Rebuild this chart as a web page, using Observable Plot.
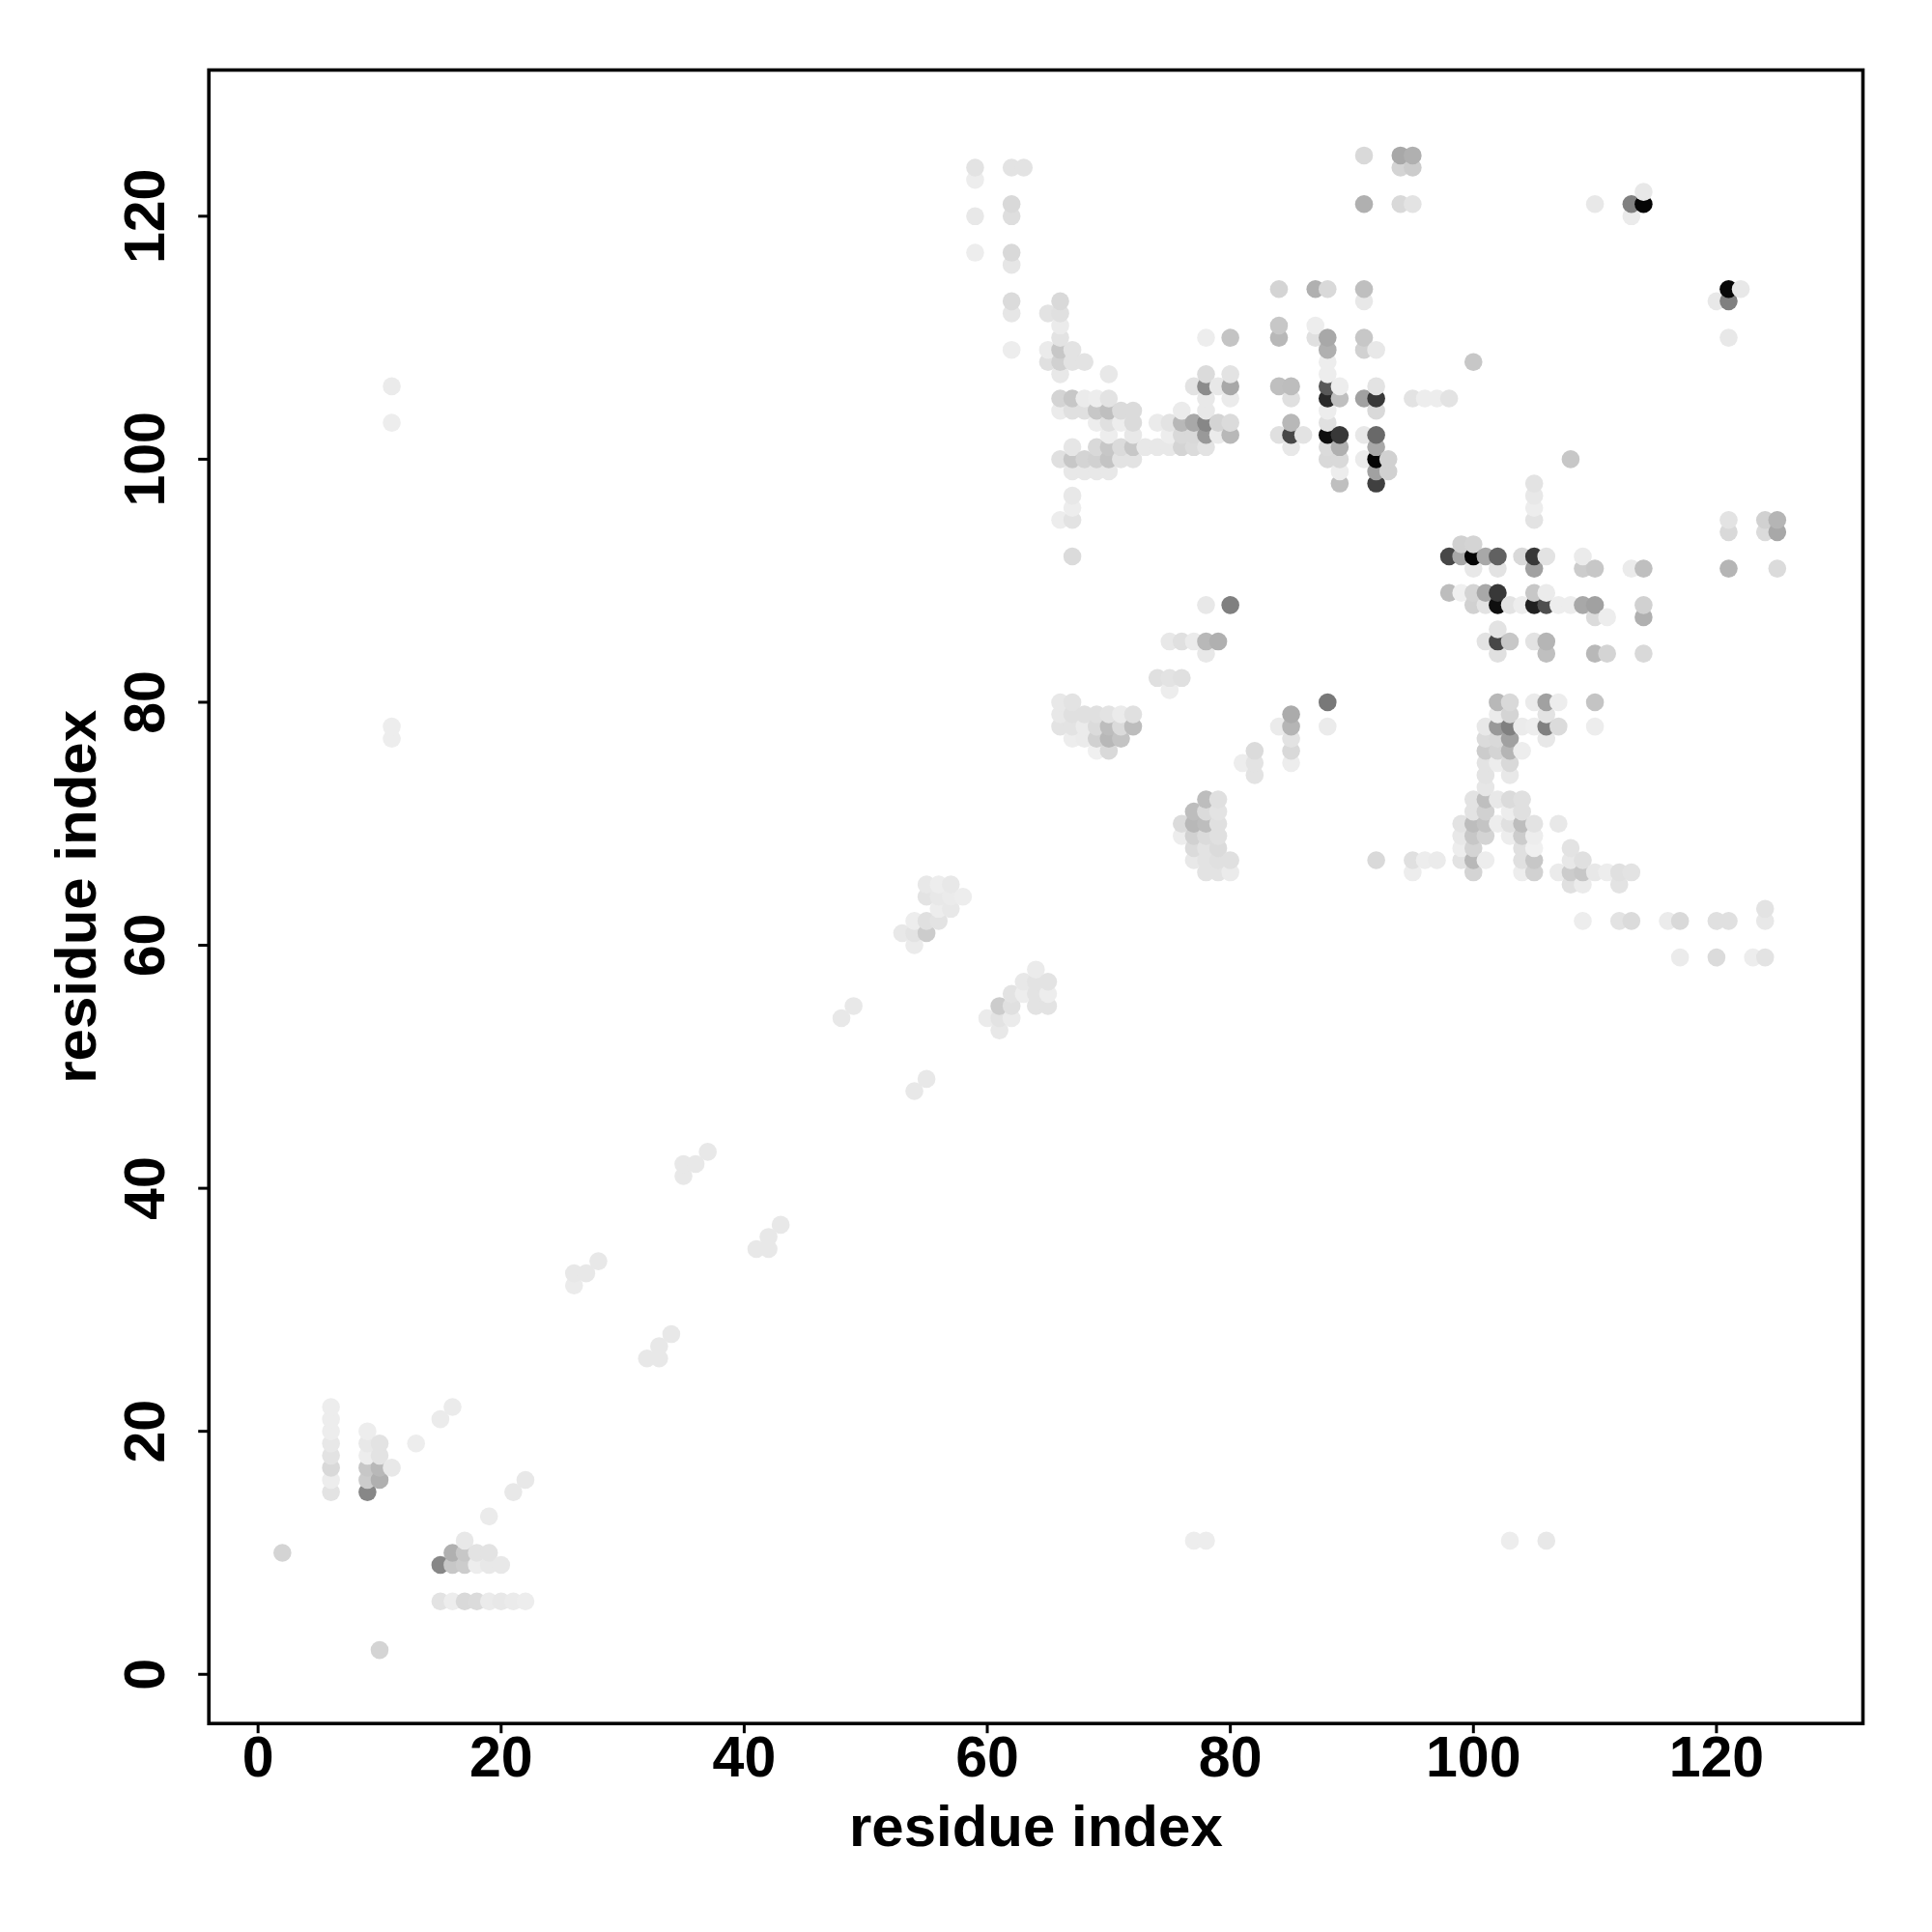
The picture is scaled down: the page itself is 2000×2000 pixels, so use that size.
<!DOCTYPE html>
<html>
<head>
<meta charset="utf-8">
<script src="https://cdn.jsdelivr.net/npm/d3@7"></script>
<script src="https://cdn.jsdelivr.net/npm/@observablehq/plot@0.6"></script>
<style>
html,body{margin:0;padding:0;background:#fff}
svg{display:block}
</style>
</head>
<body>
<div id="chart"></div>
<script>
// each contact: [residue x, residue y, intensity in percent]
const lowerLeft = [
[6,22,7],[6,21,7],[6,20,7],[6,19,9],[6,18,11],[6,17,15],[6,16,7],[6,15,11],
[9,20,7],[9,19,9],[9,18,7],[9,17,22],[9,16,20],[9,15,47],
[10,19,11],[10,18,11],[10,17,28],[10,16,31],[11,17,9],[13,19,7],[15,21,8],[16,22,8],
[19,13,8],[21,15,9],[22,16,9],[10,2,17],[2,10,17],[17,11,9],
[16,10,31],[17,10,22],[18,10,11],[19,10,11],
[15,9,47],[16,9,22],[17,9,20],[18,9,7],[19,9,9],[20,9,9],
[15,6,11],[16,6,7],[17,6,15],[18,6,14],[19,6,8],[20,6,9],[21,6,8],[22,6,7]
];
const farOutliers = [
[11,106,8],[11,103,7],[11,78,7],[11,77,7],[77,11,7],[78,11,7],[103,11,7],[106,11,9]
];
const diagonal = [
[26,32,8],[26,33,9],[27,33,9],[28,34,9],[32,26,9],[33,26,9],[33,27,9],[34,28,9],
[35,41,9],[35,42,9],[36,42,9],[37,43,9],[41,35,9],[42,35,9],[42,36,9],[43,37,9],
[48,54,9],[49,55,9],[54,48,9],[55,49,9],
[55,65,9],[56,65,7],[57,65,9],[55,64,11],[56,64,9],[57,64,8],[58,64,7],[56,63,7],[57,63,9],
[54,62,7],[55,62,12],[56,62,11],[53,61,9],[54,61,11],[55,61,20],[54,60,8],
[64,58,8],[63,57,9],[64,57,11],[65,57,11],[62,56,11],[63,56,7],[64,56,11],[65,56,7],
[61,55,20],[62,55,12],[64,55,11],[65,55,11],[60,54,8],[61,54,11],[62,54,8],[61,53,9]
];
const upperLeft = [
[59,124,11],[59,123,7],[59,120,9],[59,117,7],
[62,124,11],[63,124,11],[62,121,15],[62,120,13],[62,117,15],[62,116,10],
[62,113,14],[62,112,10],[62,109,7],
[66,113,15],[65,112,11],[66,112,12],[66,111,8],[66,110,11],
[65,109,8],[66,109,22],[67,109,11],[65,108,12],[66,108,18],[67,108,11],[68,108,11],
[66,107,9],[70,107,9]
];
const centerBand = [
[66,105,17],[67,105,22],[68,105,8],[69,105,7],[70,105,11],
[66,104,8],[67,104,12],[68,104,12],[69,104,22],[70,104,25],[71,104,14],[72,104,14],
[69,103,7],[70,103,12],[71,103,7],[72,103,14],
[70,102,7],[72,102,9],
[67,101,10],[69,101,15],[70,101,22],[71,101,14],[72,101,22],[73,101,9],[74,101,9],[75,101,9],[76,101,17],[77,101,14],[78,101,11],
[66,100,12],[67,100,22],[68,100,17],[69,100,18],[70,100,23],[71,100,11],[72,100,11],
[67,99,9],[68,99,9],[69,99,9],[70,99,9],
[67,97,9],[67,96,7],[67,95,11],[66,95,7],[67,92,14]
];
const middleTop = [
[78,110,7],[80,110,23],[78,107,14],[80,107,11],
[77,106,11],[78,106,45],[79,106,9],[80,106,34],[78,105,9],[80,105,8],
[76,104,8],[78,104,9],
[74,103,8],[75,103,11],[76,103,28],[77,103,34],[78,103,47],[79,103,17],[80,103,14],
[75,102,7],[76,102,15],[77,102,15],[78,102,40],[79,102,8],[80,102,28]
];
const rightTop = [
[91,125,15],[94,125,34],[95,125,31],[94,124,17],[95,124,20],
[91,121,31],[94,121,15],[95,121,11],
[84,114,17],[87,114,31],[88,114,15],[91,114,25],[91,113,9],
[84,111,22],[87,111,7],[84,110,28],[87,110,12],[88,110,34],[91,110,22],
[88,109,31],[91,109,18],[92,109,9],[88,108,7],[88,107,7],
[84,106,25],[85,106,26],[88,106,65],[89,106,7],[92,106,11],
[85,105,12],[88,105,84],[89,105,25],[91,105,37],[92,105,78],
[95,105,11],[96,105,7],[97,105,7],[98,105,11],
[88,104,7],[92,104,15],[85,103,28],[88,103,12],
[84,102,12],[85,102,72],[86,102,11],[88,102,94],[89,102,78],[91,102,9],[92,102,59],
[85,101,9],[88,101,14],[89,101,31],[92,101,34],
[88,100,15],[89,100,15],[91,100,8],[92,100,98],[93,100,18],
[89,99,7],[92,99,37],[93,99,18],[89,98,25],[92,98,75],
[100,108,22],[108,100,22],
[110,121,9],[113,121,50],[113,120,8],[114,122,9],[114,121,98],
[121,114,97],[122,114,9],[120,113,9],[121,113,50],[121,110,9]
];
const rightMiddle = [
[105,98,11],[105,97,9],[105,96,7],[105,95,11],
[121,95,11],[124,95,18],[125,95,29],[121,94,15],[124,94,14],[125,94,34],[121,91,29],[125,91,14],
[99,93,18],[100,93,17],
[98,92,72],[99,92,34],[100,92,98],[101,92,34],[102,92,62],[104,92,15],[105,92,78],[106,92,11],[109,92,8],
[100,91,9],[102,91,11],[105,91,37],[109,91,20],[110,91,22],[113,91,8],[114,91,25],
[98,89,26],[99,89,6],[100,89,17],[101,89,34],[102,89,78],[105,89,22],[106,89,8],
[100,88,18],[101,88,11],[102,88,94],[103,88,11],[104,88,7],[105,88,87],[106,88,69],[107,88,7],[108,88,7],[109,88,34],[110,88,37],[114,88,18],
[110,87,14],[111,87,7],[114,87,31],[102,86,11],
[101,85,11],[102,85,72],[103,85,22],[105,85,11],[106,85,29],
[102,84,12],[106,84,25],[110,84,28],[111,84,17],[114,84,15]
];
const middleLow = [
[78,88,9],[80,88,50],[75,85,9],[76,85,12],[77,85,8],[78,85,28],[79,85,31],[78,84,9],
[74,82,12],[75,82,11],[76,82,12],[75,81,7],
[66,80,9],[67,80,11],[88,80,53],
[66,79,9],[67,79,12],[68,79,12],[69,79,12],[70,79,11],[71,79,8],[72,79,12],[85,79,33],
[66,78,11],[67,78,11],[68,78,8],[69,78,14],[70,78,26],[71,78,14],[72,78,26],[84,78,8],[85,78,29],[88,78,8],
[67,77,7],[68,77,8],[69,77,18],[70,77,28],[71,77,23],[85,77,11],
[69,76,6],[70,76,15],[85,76,15],[85,75,7],
[81,75,7],[82,76,14],[82,75,11],[82,74,11],
[78,72,26],[79,72,12],[77,71,26],[78,71,14],[79,71,11],
[76,70,14],[77,70,28],[78,70,26],[79,70,12],
[76,69,7],[77,69,18],[78,69,14],[79,69,12],
[77,68,14],[78,68,11],[79,68,14],
[77,67,9],[78,67,11],[79,67,12],[80,67,12],[78,66,11],[79,66,11],[80,66,8],
[92,67,15]
];
const rightLow = [
[102,80,28],[103,80,15],[105,80,8],[106,80,37],[107,80,7],[110,80,23],
[102,79,8],[103,79,17],[106,79,11],
[101,78,9],[102,78,40],[103,78,50],[104,78,8],[105,78,7],[106,78,50],[107,78,14],[110,78,7],
[101,77,14],[102,77,15],[103,77,37],[106,77,9],
[101,76,20],[102,76,17],[103,76,29],[104,76,7],
[101,75,11],[102,75,7],[103,75,15],[101,74,11],[103,74,9],[101,73,10],
[100,72,11],[101,72,25],[102,72,9],[103,72,14],[104,72,12],
[100,71,11],[101,71,18],[103,71,7],[104,71,12],
[99,70,11],[100,70,26],[101,70,23],[102,70,7],[103,70,12],[104,70,26],[105,70,11],[107,70,9],
[99,69,9],[100,69,22],[101,69,17],[103,69,7],[104,69,20],[105,69,7],
[99,68,7],[100,68,17],[104,68,12],[105,68,6],[108,68,11],
[95,67,12],[96,67,7],[97,67,8],[99,67,11],[100,67,28],[101,67,7],[104,67,12],[105,67,22],[108,67,9],[109,67,12],
[95,66,7],[100,66,17],[104,66,7],[105,66,18],[107,66,8],[108,66,20],[109,66,22],[110,66,9],[111,66,7],[112,66,12],[113,66,11],
[108,65,12],[109,65,8],[112,65,11],
[124,63,11],[109,62,7],[112,62,11],[113,62,14],[116,62,8],[117,62,15],[120,62,12],[121,62,12],[124,62,9],
[117,59,8],[120,59,14],[123,59,7],[124,59,11]
];
const axisTicks = [0,20,40,60,80,100,120];
const axisLabel = "residue index";

const contacts = d3.sort(
  [lowerLeft, farOutliers, diagonal, upperLeft, centerBand, middleTop, rightTop, rightMiddle, middleLow, rightLow]
    .flat().map(([x, y, v]) => ({x, y, v})),
  d => d.x, d => d.y
);

const chart = Plot.plot({
  width: 2000,
  height: 2000,
  marginLeft: 215.7,
  marginRight: 72,
  marginTop: 72,
  marginBottom: 216.3,
  style: {fontFamily: "'Liberation Sans', Arial, sans-serif", fontWeight: "bold", background: "#fff", color: "#000"},
  x: {domain: [-4.05, 132.05], label: null},
  y: {domain: [-4.05, 132.03], label: null},
  color: {type: "linear", domain: [0, 100], range: ["#ffffff", "#000000"]},
  marks: [
    Plot.dot(contacts, {x: "x", y: "y", r: 9.3, fill: "v", stroke: "none"}),
    Plot.axisX({
      ticks: axisTicks, tickSize: 10.5, tickPadding: 2, strokeWidth: 3, fontSize: 59, fontWeight: "bold", label: null
    }),
    Plot.axisY({
      ticks: axisTicks, tickSize: 10.5, tickPadding: 36, tickRotate: -90, strokeWidth: 3, fontSize: 59, fontWeight: "bold", label: null
    }),
    Plot.text([axisLabel], {frameAnchor: "bottom", dy: 127, fontSize: 60, fontWeight: "bold", fill: "#000"}),
    Plot.text([axisLabel], {frameAnchor: "left", textAnchor: "middle", dx: -136, rotate: -90, fontSize: 60, fontWeight: "bold", fill: "#000"}),
    Plot.frame({stroke: "#000", strokeWidth: 3.6})
  ]
});
document.getElementById("chart").append(chart);
</script>
</body>
</html>
